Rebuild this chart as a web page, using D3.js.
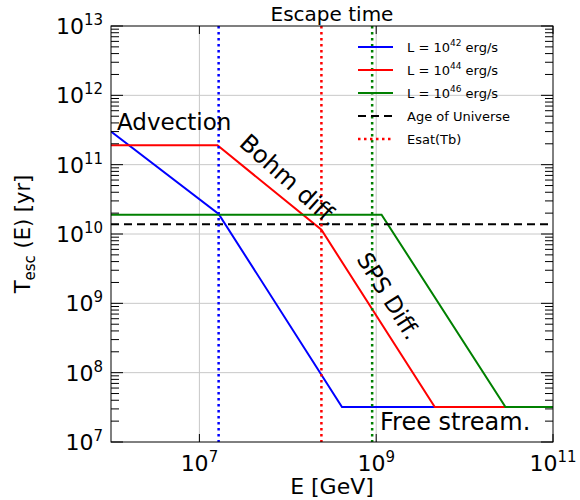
<!DOCTYPE html>
<html>
<head>
<meta charset="utf-8">
<script src="https://cdn.jsdelivr.net/npm/d3@7"></script>
<style>
  body { margin: 0; background: #fff; }
  svg { font-family: "DejaVu Sans", sans-serif; }
</style>
</head>
<body>
<div id="chart"></div>
<script>
// ---- data ----
const seriesNames = ["42", "44", "46"];
const seriesColors = ["#0000ff", "#ff0000", "#008000"];
const energyBlue = [1e6, 1.65e7, 4.1e8, 1e11];
const tescBlue = [3.0e11, 1.95e10, 3.2e7, 3.2e7];
const energyRed = [1e6, 1.6e7, 2.4e8, 4.6e9, 1e11];
const tescRed = [1.9e11, 1.9e11, 1.15e10, 3.2e7, 3.2e7];
const energyGreen = [1e6, 1.15e9, 2.9e10, 1e11];
const tescGreen = [1.9e10, 1.9e10, 3.2e7, 3.2e7];
const ageUniverse = 1.38e10;
const esatValues = [1.65e7, 2.4e8, 9e8];
const xTickValues = [1e7, 1e9, 1e11];
const yTickValues = [1e7, 1e8, 1e9, 1e10, 1e11, 1e12, 1e13];

(function () {
  const W = 580, H = 500;
  const m = { left: 111, top: 26, right: 27, bottom: 58 };
  const iw = W - m.left - m.right;
  const ih = H - m.top - m.bottom;

  const svg = d3.select("#chart").append("svg")
    .attr("width", W).attr("height", H);

  const x = d3.scaleLog().domain([1e6, 1e11]).range([m.left, m.left + iw]);
  const y = d3.scaleLog().domain([1e7, 1e13]).range([m.top + ih, m.top]);

  svg.append("clipPath").attr("id", "clip")
    .append("rect").attr("x", m.left).attr("y", m.top).attr("width", iw).attr("height", ih);

  // grid at major ticks
  const grid = svg.append("g").attr("stroke", "#c8c8c8").attr("stroke-width", 1);
  grid.selectAll(".gx").data(xTickValues.slice(0, 2)).join("line")
    .attr("x1", d => x(d)).attr("x2", d => x(d))
    .attr("y1", m.top).attr("y2", m.top + ih);
  grid.selectAll(".gy").data(yTickValues.slice(1, -1)).join("line")
    .attr("y1", d => y(d)).attr("y2", d => y(d))
    .attr("x1", m.left).attr("x2", m.left + iw);

  const plot = svg.append("g").attr("clip-path", "url(#clip)");
  const line = d3.line().x(d => x(d[0])).y(d => y(d[1]));

  const series = [
    d3.zip(energyBlue, tescBlue),
    d3.zip(energyRed, tescRed),
    d3.zip(energyGreen, tescGreen)
  ];
  plot.selectAll(".series").data(series).join("path")
    .attr("d", line)
    .attr("fill", "none")
    .attr("stroke", (d, i) => seriesColors[i])
    .attr("stroke-width", 2);

  plot.append("line")
    .attr("x1", x(1e6)).attr("x2", x(1e11))
    .attr("y1", y(ageUniverse)).attr("y2", y(ageUniverse))
    .attr("stroke", "#000").attr("stroke-width", 2)
    .attr("stroke-dasharray", "8,5");

  plot.selectAll(".esat").data(esatValues).join("line")
    .attr("x1", d => x(d)).attr("x2", d => x(d))
    .attr("y1", m.top).attr("y2", m.top + ih)
    .attr("stroke", (d, i) => seriesColors[i])
    .attr("stroke-width", 2.5)
    .attr("stroke-dasharray", "2.5,3.5");

  // frame + ticks (inside, all sides)
  const ax = svg.append("g").attr("stroke", "#000").attr("stroke-width", 1);
  ax.append("rect").attr("x", m.left).attr("y", m.top).attr("width", iw).attr("height", ih)
    .attr("fill", "none");

  const minorY = [];
  yTickValues.slice(0, -1).forEach(d => {
    for (let k = 2; k <= 9; k++) minorY.push(d * k);
  });
  [m.left, m.left + iw].forEach((x0, s) => {
    const dir = s === 0 ? 1 : -1;
    ax.selectAll(null).data(yTickValues).join("line")
      .attr("x1", x0).attr("x2", x0 + dir * 12)
      .attr("y1", d => y(d)).attr("y2", d => y(d));
    ax.selectAll(null).data(minorY).join("line")
      .attr("x1", x0).attr("x2", x0 + dir * 8)
      .attr("y1", d => y(d)).attr("y2", d => y(d));
  });
  [m.top, m.top + ih].forEach((y0, s) => {
    const dir = s === 0 ? 1 : -1;
    ax.selectAll(null).data(xTickValues).join("line")
      .attr("y1", y0).attr("y2", y0 + dir * 8)
      .attr("x1", d => x(d)).attr("x2", d => x(d));
  });

  // tick labels 10^n
  function pow10(sel, d) {
    const n = Math.round(Math.log10(d));
    sel.append("tspan").text("10");
    sel.append("tspan").attr("dy", -9).attr("font-size", 15).text(n);
  }
  svg.selectAll(".ylab").data(yTickValues).join("text")
    .attr("x", m.left - 8).attr("y", d => y(d) + 8)
    .attr("text-anchor", "end").attr("font-size", 22)
    .each(function (d) { pow10(d3.select(this), d); });
  svg.selectAll(".xlab").data(xTickValues).join("text")
    .attr("x", d => x(d)).attr("y", m.top + ih + 29)
    .attr("text-anchor", "middle").attr("font-size", 22)
    .each(function (d) { pow10(d3.select(this), d); });

  // titles
  svg.append("text").attr("x", m.left + iw / 2).attr("y", 21)
    .attr("text-anchor", "middle").attr("font-size", 20).text("Escape time");
  svg.append("text").attr("x", m.left + iw / 2).attr("y", 494)
    .attr("text-anchor", "middle").attr("font-size", 22).text("E [GeV]");
  const yl = svg.append("text")
    .attr("transform", `translate(30,${m.top + ih / 2}) rotate(-90)`)
    .attr("text-anchor", "middle").attr("font-size", 21);
  yl.append("tspan").text("T");
  yl.append("tspan").attr("dy", 5).attr("font-size", 15).text("esc");
  yl.append("tspan").attr("dy", -5).text(" (E) [yr]");

  // annotations
  svg.append("text").attr("x", 117).attr("y", 130).attr("font-size", 23).text("Advection");
  svg.append("text").attr("transform", "translate(238,145) rotate(42)")
    .attr("font-size", 24).text("Bohm diff.");
  svg.append("text").attr("transform", "translate(356,259) rotate(58)")
    .attr("font-size", 23).text("SPS Diff.");
  svg.append("text").attr("x", 380).attr("y", 430).attr("font-size", 24).text("Free stream.");

  // legend (no frame)
  const lg = svg.append("g").attr("font-size", 13);
  const rows = [0, 1, 2, 3, 4];
  const rowY = i => 47 + i * 23;
  rows.forEach(i => {
    const l = lg.append("line")
      .attr("x1", 358).attr("x2", 393).attr("y1", rowY(i)).attr("y2", rowY(i))
      .attr("stroke-width", 2);
    const t = lg.append("text").attr("x", 407).attr("y", rowY(i) + 5);
    if (i < 3) {
      l.attr("stroke", seriesColors[i]);
      t.append("tspan").text("L = 10");
      t.append("tspan").attr("dy", -6).attr("font-size", 9).text(seriesNames[i]);
      t.append("tspan").attr("dy", 6).text(" erg/s");
    } else if (i === 3) {
      l.attr("stroke", "#000").attr("stroke-dasharray", "8,5");
      t.text("Age of Universe");
    } else {
      l.attr("stroke", seriesColors[1]).attr("stroke-width", 2.5).attr("stroke-dasharray", "2.5,3.5");
      t.text("Esat(Tb)");
    }
  });
})();
</script>
</body>
</html>
